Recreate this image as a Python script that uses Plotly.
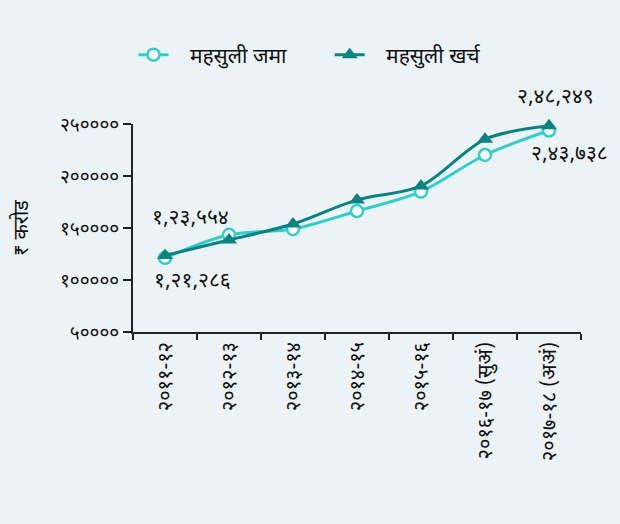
import plotly.graph_objects as go

categories = ["२०११-१२", "२०१२-१३", "२०१३-१४", "२०१४-१५", "२०१५-१६",
              "२०१६-१७ (सुअं)", "२०१७-१८ (अअं)"]
revenue = [121286, 143500, 149000, 166300, 185000, 220200, 243738]   # महसुली जमा
expenditure = [123554, 138500, 153800, 177000, 190400, 235300, 248249]  # महसुली खर्च
series_names = ["महसुली जमा", "महसुली खर्च"]
y_ticks = [50000, 100000, 150000, 200000, 250000]
y_title = "₹ करोड"

DEV = str.maketrans("0123456789", "०१२३४५६७८९")

def dev(s):
    return str(s).translate(DEV)

def indian(n):
    s = str(int(n))
    if len(s) <= 3:
        return dev(s)
    head, tail = s[:-3], s[-3:]
    parts = []
    while len(head) > 2:
        parts.insert(0, head[-2:])
        head = head[:-2]
    if head:
        parts.insert(0, head)
    return dev(",".join(parts + [tail]))

FONT = "Noto Sans Devanagari, Lohit Devanagari, Noto Sans, sans-serif"
C_REV = "#33cccc"
C_EXP = "#0b8282"
BG = "#ecf3f6"
NB = "\u00a0"

fig = go.Figure()
fig.add_trace(go.Scatter(
    x=categories, y=revenue, name=NB * 3 + series_names[0] + NB * 7, mode="lines+markers",
    line=dict(color=C_REV, width=3, shape="spline", smoothing=0.9),
    marker=dict(symbol="circle", size=12, color="white", line=dict(color=C_REV, width=2.5)),
    cliponaxis=False,
))
fig.add_trace(go.Scatter(
    x=categories, y=expenditure, name=NB * 3 + series_names[1], mode="lines+markers",
    line=dict(color=C_EXP, width=3, shape="spline", smoothing=0.9),
    marker=dict(symbol="triangle-up", size=14, color=C_EXP),
    cliponaxis=False,
))

ann_font = dict(family=FONT, size=21, color="#111111")
fig.add_annotation(x=categories[0], y=expenditure[0], text=indian(expenditure[0]),
                   showarrow=False, yshift=37, xshift=25, font=ann_font)
fig.add_annotation(x=categories[0], y=revenue[0], text=indian(revenue[0]),
                   showarrow=False, yshift=-24, xshift=27, font=ann_font)
fig.add_annotation(x=categories[-1], y=expenditure[-1], text=indian(expenditure[-1]),
                   showarrow=False, yshift=28, xshift=6, font=ann_font)
fig.add_annotation(x=categories[-1], y=revenue[-1], text=indian(revenue[-1]),
                   showarrow=False, yshift=-24, xshift=20, font=ann_font)

fig.update_layout(
    width=620, height=524,
    paper_bgcolor=BG, plot_bgcolor=BG,
    margin=dict(l=133, r=39, t=124, b=192),
    font=dict(family=FONT, size=18, color="#111111"),
    showlegend=True,
    legend=dict(orientation="h", x=0.5, xanchor="center", xref="container",
                y=0.895, yanchor="middle", yref="container",
                font=dict(size=21), bgcolor="rgba(0,0,0,0)"),
    xaxis=dict(
        type="category", range=[-0.5, 6.5], showgrid=False,
        showline=True, linecolor="#222222", linewidth=2,
        ticks="outside", ticklen=6, tickcolor="#222222", tickwidth=2,
        tickson="boundaries", tickangle=-90, tickfont=dict(size=20),
    ),
    yaxis=dict(
        range=[50000, 250000], showgrid=False, zeroline=False,
        showline=True, linecolor="#222222", linewidth=2,
        ticks="outside", ticklen=8, tickcolor="#222222", tickwidth=2,
        tickvals=y_ticks, ticktext=[dev(v) for v in y_ticks],
        tickfont=dict(size=19),
        title=dict(text=y_title, font=dict(size=20), standoff=26),
    ),
)

fig.write_html("out.html", config={"displayModeBar": False},
               post_script="document.body.style.margin='0';document.body.style.background='%s';" % BG)
